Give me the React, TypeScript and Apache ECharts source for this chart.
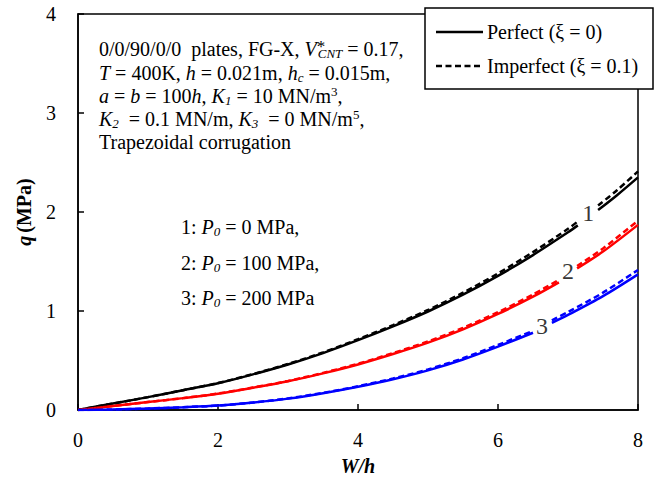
import React, { useEffect, useRef } from "react";
import * as echarts from "echarts";

const FONT = "'Liberation Serif', serif";

// x positions (W/h) and values (q, MPa); null marks the gap left for the curve label
const X_1 = [0, 0.5, 1, 1.5, 2, 2.5, 3, 3.5, 4, 4.5, 5, 5.5, 6, 6.5, 7, 7.14, 7.3, 7.43, 7.7, 8];
const Q_1_PERFECT = [0, 0.065, 0.13, 0.2, 0.27, 0.36, 0.46, 0.575, 0.705, 0.845, 0.995, 1.165, 1.355, 1.565, 1.795, 1.865, null, 2.02, 2.17, 2.35];
const Q_1_IMPERFECT = [0, 0.065, 0.13, 0.2, 0.272, 0.363, 0.465, 0.582, 0.715, 0.857, 1.01, 1.185, 1.38, 1.595, 1.83, 1.905, null, 2.065, 2.22, 2.41];

const X_2 = [0, 0.5, 1, 1.5, 2, 2.5, 3, 3.5, 4, 4.5, 5, 5.5, 6, 6.5, 6.87, 7.0, 7.13, 7.5, 8];
const Q_2_PERFECT = [0, 0.04, 0.08, 0.12, 0.165, 0.225, 0.29, 0.37, 0.46, 0.565, 0.68, 0.815, 0.97, 1.145, 1.29, null, 1.43, 1.6, 1.87];
const Q_2_IMPERFECT = [0, 0.04, 0.08, 0.12, 0.166, 0.227, 0.293, 0.375, 0.467, 0.575, 0.693, 0.83, 0.988, 1.167, 1.315, null, 1.455, 1.632, 1.912];

const X_3 = [0, 0.5, 1, 1.5, 2, 2.5, 3, 3.5, 4, 4.5, 5, 5.5, 6, 6.5, 6.63, 6.77, 7, 7.5, 8];
const Q_3_PERFECT = [0, 0.005, 0.015, 0.028, 0.045, 0.075, 0.115, 0.17, 0.235, 0.31, 0.4, 0.51, 0.64, 0.78, null, 0.88, 0.96, 1.15, 1.37];
const Q_3_IMPERFECT = [0, 0.005, 0.015, 0.028, 0.045, 0.076, 0.117, 0.173, 0.24, 0.318, 0.41, 0.523, 0.657, 0.8, null, 0.905, 0.99, 1.185, 1.415];

// curve labels: [x, q, text]
const CURVE_LABELS: [number, number, string][] = [
  [7.29, 1.99, "1"],
  [7.0, 1.4, "2"],
  [6.63, 0.85, "3"],
];

const X_TICKS = { min: 0, max: 8, interval: 2 };
const Y_TICKS = { min: 0, max: 4, interval: 1 };

const LEGEND_PERFECT = "Perfect (ξ = 0)";
const LEGEND_IMPERFECT = "Imperfect (ξ = 0.1)";

const pairs = (xs: number[], ys: (number | null)[]) =>
  xs.map((x, i) => [x, ys[i] === null ? "-" : ys[i]]);

const RICH: any = {
  i: { fontFamily: FONT, fontSize: 20, fontStyle: "italic", lineHeight: 22, color: "#000" },
  sub: { fontFamily: FONT, fontSize: 13, fontStyle: "italic", lineHeight: 7, verticalAlign: "bottom", color: "#000" },
  sup: { fontFamily: FONT, fontSize: 13, lineHeight: 7, verticalAlign: "top", color: "#000" },
  star: { fontFamily: FONT, fontSize: 17, lineHeight: 8, verticalAlign: "top", width: 1, color: "#000" },
};

const ANNOT_LINES = [
  "0/0/90/0/0  plates, FG-X, {i|V}{star|*}{sub|CNT} = 0.17,",
  "{i|T} = 400K, {i|h} = 0.021m, {i|h}{sub|c} = 0.015m,",
  "{i|a} = {i|b} = 100{i|h}, {i|K}{sub|1} = 10 MN/m{sup|3},",
  "{i|K}{sub|2}  = 0.1 MN/m, {i|K}{sub|3}  = 0 MN/m{sup|5},",
  "Trapezoidal corrugation",
];
const ANNOT_Y = [49, 72.5, 96, 119, 142];

const P0_LINES = [
  "1: {i|P}{sub|0} = 0 MPa,",
  "2: {i|P}{sub|0} = 100 MPa,",
  "3: {i|P}{sub|0} = 200 MPa",
];
const P0_Y = [227, 263, 298];

function textEl(text: string, x: number, y: number) {
  return {
    type: "text",
    x,
    y,
    z: 10,
    style: {
      text,
      rich: RICH,
      fontFamily: FONT,
      fontSize: 20,
      lineHeight: 22,
      fill: "#000",
      verticalAlign: "middle",
      align: "left",
    },
  };
}

function lineSeries(name: string, xs: number[], ys: (number | null)[], color: string, dashed: boolean) {
  return {
    name,
    type: "line",
    data: pairs(xs, ys),
    showSymbol: false,
    symbol: "none",
    smooth: 0.3,
    connectNulls: false,
    silent: true,
    z: dashed ? 4 : 3,
    lineStyle: { color, width: 2.5, type: dashed ? [6, 3.5] : "solid" },
    itemStyle: { color },
  };
}

const legendGraphic = [
  {
    type: "rect",
    z: 20,
    shape: { x: 425, y: 8, width: 228, height: 81 },
    style: { fill: "#fff", stroke: "#000", lineWidth: 1.5 },
  },
  {
    type: "line",
    z: 21,
    shape: { x1: 436, y1: 32, x2: 483, y2: 32 },
    style: { stroke: "#000", lineWidth: 2.5 },
  },
  {
    type: "line",
    z: 21,
    shape: { x1: 436, y1: 66, x2: 483, y2: 66 },
    style: { stroke: "#000", lineWidth: 2.5, lineDash: [6, 3.5] },
  },
  {
    type: "text",
    z: 21,
    x: 487,
    y: 32,
    style: { text: LEGEND_PERFECT, fontFamily: FONT, fontSize: 20, fill: "#000", verticalAlign: "middle" },
  },
  {
    type: "text",
    z: 21,
    x: 487,
    y: 66,
    style: { text: LEGEND_IMPERFECT, fontFamily: FONT, fontSize: 20, fill: "#000", verticalAlign: "middle" },
  },
];

export default function App() {
  const ref = useRef<HTMLDivElement>(null);
  useEffect(() => {
    const chart = echarts.init(ref.current!, null, { renderer: "svg" });
    const option: any = {
      animation: false,
      backgroundColor: "#fff",
      textStyle: { fontFamily: FONT },
      grid: {
        left: 78,
        right: 20,
        top: 14,
        bottom: 78,
        show: true,
        borderColor: "#000",
        borderWidth: 1.5,
        backgroundColor: "transparent",
      },
      xAxis: {
        type: "value",
        min: X_TICKS.min,
        max: X_TICKS.max,
        interval: X_TICKS.interval,
        name: "{b|W/h}",
        nameLocation: "middle",
        nameGap: 46,
        nameTextStyle: {
          rich: { b: { fontFamily: FONT, fontSize: 20, fontWeight: "bold", fontStyle: "italic", color: "#000" } },
        },
        axisLine: { show: true, lineStyle: { color: "#000", width: 1.5 } },
        axisTick: { show: true, inside: true, length: 6, lineStyle: { color: "#000", width: 1.5 } },
        axisLabel: { fontFamily: FONT, fontSize: 20, color: "#000", margin: 20 },
        splitLine: { show: false },
      },
      yAxis: {
        type: "value",
        min: Y_TICKS.min,
        max: Y_TICKS.max,
        interval: Y_TICKS.interval,
        name: "{bi|q} {b|(MPa)}",
        nameLocation: "middle",
        nameGap: 44,
        nameTextStyle: {
          rich: {
            bi: { fontFamily: FONT, fontSize: 20, fontWeight: "bold", fontStyle: "italic", color: "#000" },
            b: { fontFamily: FONT, fontSize: 20, fontWeight: "bold", color: "#000" },
          },
        },
        axisLine: { show: true, lineStyle: { color: "#000", width: 1.5 } },
        axisTick: { show: true, inside: true, length: 6, lineStyle: { color: "#000", width: 1.5 } },
        axisLabel: { fontFamily: FONT, fontSize: 20, color: "#000", margin: 22 },
        splitLine: { show: false },
      },
      series: [
        lineSeries(LEGEND_PERFECT, X_1, Q_1_PERFECT, "#000000", false),
        lineSeries(LEGEND_IMPERFECT, X_1, Q_1_IMPERFECT, "#000000", true),
        lineSeries("P0=100 perfect", X_2, Q_2_PERFECT, "#ff0000", false),
        lineSeries("P0=100 imperfect", X_2, Q_2_IMPERFECT, "#ff0000", true),
        lineSeries("P0=200 perfect", X_3, Q_3_PERFECT, "#0000ff", false),
        lineSeries("P0=200 imperfect", X_3, Q_3_IMPERFECT, "#0000ff", true),
        {
          name: "curve labels",
          type: "scatter",
          data: CURVE_LABELS,
          symbolSize: 1,
          itemStyle: { color: "rgba(0,0,0,0)" },
          silent: true,
          label: {
            show: true,
            position: "inside",
            formatter: (p: any) => p.data[2],
            fontFamily: FONT,
            fontSize: 24,
            color: "#000",
          },
        },
      ],
      graphic: [
        ...ANNOT_LINES.map((t, i) => textEl(t, 99, ANNOT_Y[i])),
        ...P0_LINES.map((t, i) => textEl(t, 181, P0_Y[i])),
        ...legendGraphic,
      ],
    };
    chart.setOption(option);
    return () => chart.dispose();
  }, []);
  return <div ref={ref} style={{ position: "fixed", left: 0, top: 0, width: 658, height: 488 }} />;
}
